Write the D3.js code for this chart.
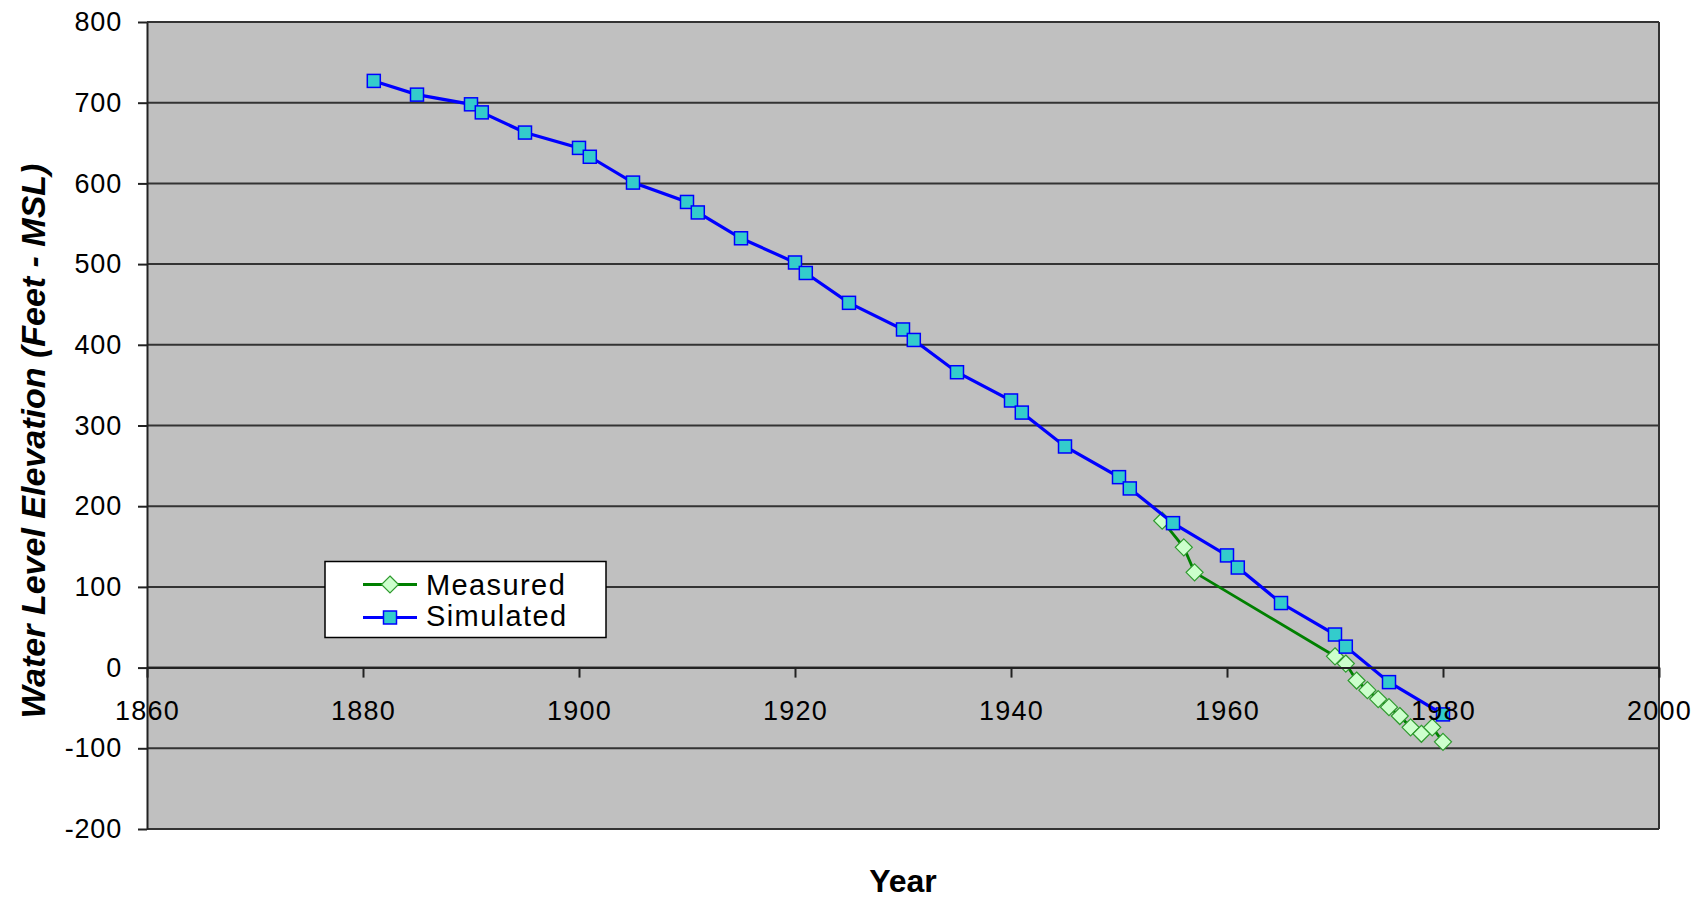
<!DOCTYPE html>
<html>
<head>
<meta charset="utf-8">
<script src="https://cdn.jsdelivr.net/npm/d3@7"></script>
<style>
  body { margin: 0; background: #fff; }
  svg { display: block; font-family: "Liberation Sans", Arial, sans-serif; }
</style>
</head>
<body>
<div id="chart"></div>
<script>

// data
var simYears  = [1881, 1885, 1890, 1891, 1895, 1900, 1901, 1905, 1910, 1911, 1915, 1920, 1921, 1925,
                 1930, 1931, 1935, 1940, 1941, 1945, 1950, 1951, 1955, 1960, 1961, 1965, 1970, 1971, 1975, 1980];
var simLevels = [727, 710, 698, 688, 663, 644, 633, 601, 577, 564, 532, 502, 489, 452,
                 419, 406, 366, 331, 316, 274, 236, 222, 179, 139, 124, 80, 41, 26, -18, -58];

var measYears  = [1954, 1956, 1957, 1970, 1971, 1972, 1973, 1974, 1975, 1976, 1977, 1978, 1979, 1980];
var measLevels = [182, 149, 118, 14, 5, -16, -28, -39, -49, -60, -74, -82, -74, -92];

var xTicks = [1860, 1880, 1900, 1920, 1940, 1960, 1980, 2000];
var yTicks = [-200, -100, 0, 100, 200, 300, 400, 500, 600, 700, 800];

var seriesNames = ["Measured", "Simulated"];

var width = 1706, height = 898;
var margin = {left: 147, right: 47, top: 22, bottom: 69};

var svg = d3.select("#chart").append("svg")
    .attr("width", width)
    .attr("height", height);

var x = d3.scaleLinear().domain([1860, 2000]).range([margin.left, width - margin.right]);
var y = d3.scaleLinear().domain([-200, 800]).range([height - margin.bottom, margin.top]);

// plot area
svg.append("rect")
    .attr("x", x(1860)).attr("y", y(800))
    .attr("width", x(2000) - x(1860)).attr("height", y(-200) - y(800))
    .style("fill", "#c0c0c0");

// gridlines
svg.append("g").selectAll("line").data(yTicks).enter().append("line")
    .attr("x1", x(1860)).attr("x2", x(2000))
    .attr("y1", function(d){ return y(d); })
    .attr("y2", function(d){ return y(d); })
    .style("stroke", "#333")
    .style("stroke-width", 2);

// right border
svg.append("line")
    .attr("x1", x(2000)).attr("x2", x(2000))
    .attr("y1", y(800)).attr("y2", y(-200))
    .style("stroke", "#333").style("stroke-width", 2);

var line = d3.line()
    .x(function(d){ return x(d[0]); })
    .y(function(d){ return y(d[1]); });

var meas = d3.zip(measYears, measLevels);
var sim = d3.zip(simYears, simLevels);

//Measured series
svg.append("path")
    .datum(meas)
    .attr("d", line)
    .style("fill", "none")
    .style("stroke", "#008000")
    .style("stroke-width", 2.8);

var diamond = d3.symbol().type(d3.symbolDiamond2).size(185);

svg.append("g").selectAll("path").data(meas).enter().append("path")
    .attr("d", diamond)
    .attr("transform", function(d){ return "translate(" + x(d[0]) + "," + y(d[1]) + ")"; })
    .style("fill", "#ccffcc")
    .style("stroke", "#2e9a2e")
    .style("stroke-width", 1.2);

//Simulated series
svg.append("path")
    .datum(sim)
    .attr("d", line)
    .style("fill", "none")
    .style("stroke", "#0000ff")
    .style("stroke-width", 3.2);

svg.append("g").selectAll("rect").data(sim).enter().append("rect")
    .attr("x", function(d){ return x(d[0]) - 6.5; })
    .attr("y", function(d){ return y(d[1]) - 6.5; })
    .attr("width", 13).attr("height", 13)
    .style("fill", "#33cccc")
    .style("stroke", "#0000ff")
    .style("stroke-width", 1.5);

var plain = function(d){ return String(d); };

// y axis
var yAxis = svg.append("g")
    .attr("transform", "translate(" + x(1860) + ",0)")
    .call(d3.axisLeft(y).tickValues(yTicks).tickFormat(plain).tickSize(9).tickSizeOuter(0).tickPadding(16));
yAxis.select(".domain").style("stroke", "#222").style("stroke-width", 2);
yAxis.selectAll(".tick line").style("stroke", "#222").style("stroke-width", 2);
yAxis.selectAll("text")
    .style("font-size", "27px")
    .style("letter-spacing", "0.8px")
    .style("fill", "#000");

// x axis sits on the zero line
var xAxis = svg.append("g")
    .attr("transform", "translate(0," + y(0) + ")")
    .call(d3.axisBottom(x).tickValues(xTicks).tickFormat(plain)
        .tickSize(10).tickSizeOuter(0).tickPadding(23));
xAxis.select(".domain").style("stroke", "#222").style("stroke-width", 2);
xAxis.selectAll(".tick line").style("stroke", "#222").style("stroke-width", 2);
xAxis.selectAll("text")
    .style("font-size", "27px")
    .style("letter-spacing", "1.2px")
    .style("fill", "#000");

// axis titles
svg.append("text")
    .attr("x", (x(1860) + x(2000)) / 2)
    .attr("y", 892)
    .attr("text-anchor", "middle")
    .style("font-size", "32px")
    .style("font-weight", "bold")
    .text("Year");

svg.append("text")
    .attr("transform", "translate(45,441) rotate(-90)")
    .attr("text-anchor", "middle")
    .style("font-size", "34px")
    .style("font-weight", "bold")
    .style("font-style", "italic")
    .text("Water Level Elevation (Feet - MSL)");

// legend
var legend = svg.append("g").attr("transform", "translate(325,561.5)");

legend.append("rect")
    .attr("width", 281).attr("height", 76)
    .style("fill", "#fff")
    .style("stroke", "#000")
    .style("stroke-width", 1.5);

legend.append("line")
    .attr("x1", 38).attr("x2", 92).attr("y1", 23).attr("y2", 23)
    .style("stroke", "#008000").style("stroke-width", 2.8);
legend.append("path")
    .attr("d", diamond)
    .attr("transform", "translate(65,23)")
    .style("fill", "#ccffcc").style("stroke", "#2e9a2e").style("stroke-width", 1.2);

legend.append("line")
    .attr("x1", 38).attr("x2", 92).attr("y1", 56).attr("y2", 56)
    .style("stroke", "#0000ff").style("stroke-width", 3.2);
legend.append("rect")
    .attr("x", 58.5).attr("y", 49.5).attr("width", 13).attr("height", 13)
    .style("fill", "#33cccc").style("stroke", "#0000ff").style("stroke-width", 1.5);

legend.selectAll(".label").data(seriesNames).enter().append("text")
    .attr("class", "label")
    .attr("x", 101)
    .attr("y", function(d, i){ return 33 + i * 31; })
    .style("font-size", "29px")
    .style("letter-spacing", "1.4px")
    .text(function(d){ return d; });

</script>
</body>
</html>
